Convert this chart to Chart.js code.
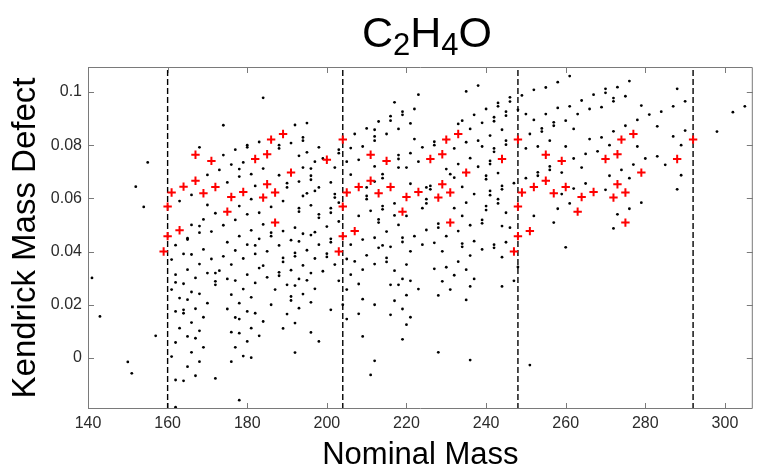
<!DOCTYPE html>
<html>
<head>
<meta charset="utf-8">
<script src="https://cdn.jsdelivr.net/npm/chart.js@4.4.0/dist/chart.umd.min.js"></script>
<style>
  html, body { margin: 0; padding: 0; background: #fff; }
  #wrap { position: relative; width: 759px; height: 471px; overflow: hidden; }
  #title { position: absolute; left: 327px; top: 11px; width: 200px; text-align: center;
           font: 43px/1 "Liberation Sans", Arial, sans-serif; color: #000; }
  #title sub { font-size: 31px; vertical-align: -8px; line-height: 0; }
</style>
</head>
<body>
<div id="wrap">
  <canvas id="chart" width="759" height="471"></canvas>
  <div id="title">C<sub>2</sub>H<sub>4</sub>O</div>
</div>
<script>
// axis ranges and ticks
const xMin = 140, xMax = 307;
const yMin = -0.0192, yMax = 0.1094;
const xTicks = [140, 160, 180, 200, 220, 240, 260, 280, 300];
const yTicks = [0, 0.02, 0.04, 0.06, 0.08, 0.1];
const yTickLabels = ['0', '0.02', '0.04', '0.06', '0.08', '0.1'];

// nominal masses where the dashed guide lines are drawn
const dashMasses = [160, 204, 248, 292];

// highlighted compounds (red crosses)
const redMass = [
  159,160,160,161,163,164,167,167,169,171,172,175,176,179,182,184,185,185,186,187,187,189,191,200,
  203,204,204,204,205,207,208,211,211,213,215,216,219,220,223,226,228,229,229,230,231,231,233,235,244,
  247,248,248,248,249,251,252,255,255,257,259,260,263,264,267,270,272,273,273,274,275,275,277,279,288,292
];
const redKmd = [
  .0400,.0569,.0458,.0622,.0480,.0644,.0764,.0666,.0619,.0741,.0643,.0550,.0605,.0624,.0748,.0603,.0766,.0653,.0821,.0622,.0509,.0842,.0697,.0745,
  .0400,.0821,.0569,.0458,.0622,.0477,.0643,.0764,.0666,.0619,.0741,.0643,.0550,.0605,.0624,.0748,.0603,.0766,.0653,.0821,.0622,.0509,.0842,.0697,.0748,
  .0400,.0821,.0569,.0458,.0622,.0477,.0643,.0764,.0666,.0619,.0741,.0643,.0550,.0605,.0624,.0748,.0603,.0766,.0653,.0821,.0622,.0509,.0842,.0697,.0748,.0821
];

// all other compounds (black dots)
const blackMass = [
  155,152,154,174,168,174,177,180,180,183,179,176,178,173,170,181,178,175,182,163,166,170,181,172,178,169,166,168,177,174,180,165,168,171,178,181,
  184,192,195,188,188,191,194,194,198,193,195,194,196,197,199,202,203,203,
  184,188,190,190,193,196,196,198,197,183,186,189,194,195,193,193,196,198,198,
  201,201,201,202,202,203,184,186,186,189,192,194,196,200,203,
  207,210,212,213,212,212,215,216,216,217,219,219,222,223,218,221,222,224,
  206,209,208,205,212,214,214,218,218,221,223,218,220,206,210,212,217,221,225,
  210,210,214,214,208,211,213,213,215,217,218,220,222,224,
  235,238,240,243,243,246,246,249,252,255,258,261,267,
  234,233,237,239,242,242,245,245,248,250,252,255,254,254,257,257,258,261,264,266,260,262,263,
  236,241,244,238,235,245,245,242,242,239,232,227,227,236,241,241,233,230,231,232,
  238,240,240,243,244,244,226,226,225,225,234,237,241,241,243,243,245,247,
  232,235,240,240,234,239,239,236,228,228,230,225,233,244,246,
  251,253,250,256,260,266,256,256,250,253,253,262,265,264,259,262,259,258,261,252,257,
  270,270,273,276,269,272,272,275,288,290,279,278,281,284,287,275,272,283,269,287,290,
  268,271,278,280,283,285,289,271,274,277,276,265,270,289,288,279,276,273,272,298,302,305,
  141,143,150,151,157,161,161,161,162,162,162,162,162,162,162,163,163,
  164,164,164,164,164,165,165,165,165,165,166,166,166,166,167,167,167,167,
  168,168,168,168,169,169,169,170,170,171,172,172,172,172,173,174,
  175,175,175,176,176,176,176,177,177,177,177,178,178,178,178,
  179,179,179,180,180,180,180,181,181,181,182,182,183,183,
  183,197,182,185,188,189,189,191,192,192,193,195,198,197,200,200,201,201,
  184,185,188,188,191,194,196,199,202,203,187,190,192,193,195,197,191,191,194,
  186,193,196,201,182,190,184,192,189,196,198,192,
  205,207,206,209,210,212,212,213,214,215,215,216,217,218,219,219,219,220,221,221,223,224,
  205,206,208,209,209,212,216,217,219,220,205,208,216,221,220,209,219,212,211,204,
  227,234,234,237,239,242,242,245,229,236,244,233,227,230,235,232,229,237,231,236,244,247,248,228,235,228,236,251,260
];
const blackKmd = [
  .0735,.0644,.0568,.0875,.0792,.0763,.0783,.0800,.0792,.0812,.0735,.0727,.0710,.0707,.0688,.0691,.0682,.0660,.0647,.0590,.0613,.0575,.0597,.0544,.0571,.0521,.0500,.0496,.0519,.0499,.0540,.0450,.0471,.0475,.0458,.0480,
  .0978,.0876,.0883,.0800,.0788,.0808,.0829,.0817,.0792,.0760,.0773,.0716,.0712,.0738,.0750,.0716,.0783,.0770,
  .0712,.0687,.0657,.0641,.0663,.0685,.0670,.0641,.0628,.0546,.0568,.0590,.0609,.0619,.0563,.0550,.0574,.0540,.0527,
  .0660,.0563,.0546,.0616,.0603,.0584,.0502,.0471,.0458,.0477,.0490,.0467,.0462,.0494,.0513,
  .0842,.0863,.0858,.0889,.0833,.0817,.0842,.0909,.0892,.0961,.0926,.0914,.0936,.0990,.0861,.0882,.0823,.0792,
  .0789,.0795,.0745,.0738,.0720,.0691,.0676,.0763,.0748,.0770,.0738,.0716,.0716,.0689,.0641,.0663,.0581,.0655,.0641,
  .0609,.0597,.0571,.0559,.0534,.0553,.0521,.0509,.0475,.0536,.0500,.0534,.0458,.0563,
  .1002,.1024,.0936,.0959,.0946,.0980,.0964,.0987,.1008,.1017,.1037,.1060,.0990,
  .0892,.0880,.0914,.0884,.0905,.0890,.0926,.0911,.0933,.0917,.0895,.0917,.0863,.0851,.0886,.0873,.0940,.0946,.0968,.0936,.0892,.0861,.0917,
  .0861,.0836,.0858,.0817,.0811,.0817,.0802,.0788,.0775,.0795,.0788,.0813,.0800,.0751,.0741,.0729,.0729,.0710,.0691,.0678,
  .0719,.0685,.0672,.0695,.0647,.0634,.0647,.0634,.0597,.0581,.0643,.0616,.0628,.0612,.0597,.0581,.0546,.0657,
  .0563,.0584,.0571,.0556,.0534,.0519,.0506,.0499,.0505,.0490,.0458,.0481,.0477,.0496,.0490,
  .0842,.0795,.0788,.0817,.0795,.0823,.0720,.0707,.0676,.0698,.0685,.0750,.0767,.0716,.0697,.0637,.0616,.0561,.0581,.0534,.0509,
  .1012,.0997,.1018,.1041,.0943,.0977,.0965,.0984,.1012,.0965,.0949,.0895,.0915,.0926,.0946,.0873,.0852,.0871,.0829,.0833,.0855,
  .0777,.0800,.0795,.0750,.0758,.0726,.0800,.0685,.0707,.0727,.0676,.0656,.0632,.0687,.0634,.0584,.0561,.0540,.0487,.0851,.0924,.0946,
  .0301,.0156,-.0015,-.0058,.0083,.0370,.0257,.0005,.0424,.0313,.0284,.0175,.0058,-.0083,-.0185,.0225,.0112,
  .0391,.0279,.0181,.0168,-.0086,.0445,.0332,.0219,.0081,-.0033,.0389,.0248,.0133,.0021,.0301,.0185,.0074,-.0067,
  .0353,.0241,.0102,-.0014,.0408,.0153,.0040,.0319,.0206,.0372,.0319,.0288,.0275,-.0077,.0328,.0382,
  .0435,.0297,.0184,.0351,-.0014,.0238,.0097,.0404,.0291,.0152,.0040,.0206,.0146,.0093,-.0159,
  .0374,.0259,.0007,.0426,.0313,.0175,.0062,.0228,.0112,.0001,.0391,.0282,.0338,.0083,
  .0448,.0473,.0423,.0401,.0423,.0376,.0361,.0443,.0395,.0382,.0438,.0405,.0426,.0374,.0392,.0380,.0448,.0435,
  .0347,.0303,.0322,.0309,.0330,.0348,.0319,.0326,.0351,.0290,.0257,.0275,.0272,.0297,.0292,.0260,.0231,.0216,.0240,
  .0200,.0187,.0209,.0181,.0168,.0165,.0137,.0131,.0111,.0096,.0062,.0020,
  .0372,.0363,.0426,.0445,.0386,.0452,.0353,.0414,.0423,.0376,.0361,.0418,.0328,.0275,.0452,.0436,.0297,.0351,.0401,.0290,.0259,.0426,
  .0257,.0313,.0278,.0332,.0221,.0200,.0275,.0215,.0184,.0236,.0146,.0166,.0162,.0153,.0125,.0081,.0070,-.0011,-.0064,.0200,
  .0433,.0430,.0418,.0439,.0408,.0426,.0414,.0435,.0401,.0385,.0379,.0362,.0335,.0341,.0332,.0311,.0288,.0297,.0257,.0269,.0269,.0290,.0342,.0235,.0218,.0021,-.0008,-.0027,.0416
];

const axisGrey = '#7a7a7a';
const labelColor = '#2b2b2b';
const fontFamily = '"Liberation Sans", Arial, sans-serif';

function pairs(masses, kmds) {
  const n = Math.min(masses.length, kmds.length);
  const out = [];
  for (let i = 0; i < n; i++) out.push({x: masses[i], y: kmds[i]});
  return out;
}

// MATLAB style box with inward tick marks on all four sides
const boxTicks = {
  id: 'boxTicks',
  afterDraw(chart) {
    const {ctx, chartArea: a, scales} = chart;
    const len = 6;
    ctx.save();
    ctx.strokeStyle = axisGrey;
    ctx.lineWidth = 1;
    ctx.beginPath();
    ctx.rect(a.left + 0.5, a.top + 0.5, a.right - a.left - 1, a.bottom - a.top - 1);
    scales.x.ticks.forEach(t => {
      const px = Math.round(scales.x.getPixelForValue(t.value)) + 0.5;
      ctx.moveTo(px, a.bottom); ctx.lineTo(px, a.bottom - len);
      ctx.moveTo(px, a.top); ctx.lineTo(px, a.top + len);
    });
    scales.y.ticks.forEach(t => {
      const py = Math.round(scales.y.getPixelForValue(t.value)) + 0.5;
      ctx.moveTo(a.left, py); ctx.lineTo(a.left + len, py);
      ctx.moveTo(a.right, py); ctx.lineTo(a.right - len, py);
    });
    ctx.stroke();
    ctx.restore();
  }
};

Chart.defaults.font.family = fontFamily;

const datasets = [
  {
    label: 'highlighted',
    data: pairs(redMass, redKmd),
    pointStyle: 'cross',
    pointRadius: 4.2,
    borderColor: '#ff0000',
    borderWidth: 2,
    order: 0
  },
  {
    label: 'compounds',
    data: pairs(blackMass, blackKmd),
    pointRadius: 1.4,
    backgroundColor: '#000',
    borderWidth: 0,
    order: 1
  }
];
dashMasses.forEach(m => {
  datasets.push({
    label: 'n' + m,
    data: [{x: m, y: yMin}, {x: m, y: yMax}],
    showLine: true,
    pointRadius: 0,
    borderColor: '#000',
    borderWidth: 1.4,
    borderDash: [6, 3],
    order: 2
  });
});

new Chart(document.getElementById('chart'), {
  type: 'scatter',
  data: {datasets: datasets},
  options: {
    responsive: false,
    animation: false,
    devicePixelRatio: 1,
    layout: {padding: {top: 67, right: 2, left: 0, bottom: 0}},
    plugins: {legend: {display: false}, tooltip: {enabled: false}},
    scales: {
      x: {
        type: 'linear',
        min: xMin,
        max: xMax,
        grid: {display: false, drawTicks: false},
        border: {display: false},
        afterBuildTicks: s => { s.ticks = xTicks.map(v => ({value: v})); },
        afterFit: s => { s.height = 62; },
        ticks: {color: labelColor, font: {size: 16}, padding: 5, maxRotation: 0},
        title: {
          display: true,
          text: 'Nominal Mass',
          color: '#000',
          font: {size: 31, lineHeight: 1},
          padding: {top: 0, bottom: 0}
        }
      },
      y: {
        type: 'linear',
        min: yMin,
        max: yMax,
        grid: {display: false, drawTicks: false},
        border: {display: false},
        afterBuildTicks: s => { s.ticks = yTicks.map(v => ({value: v})); },
        afterFit: s => { s.width = 88; },
        ticks: {
          color: labelColor,
          font: {size: 16},
          padding: 6,
          callback: v => {
            const i = yTicks.findIndex(t => Math.abs(t - v) < 1e-9);
            return i >= 0 ? yTickLabels[i] : '';
          }
        },
        title: {
          display: true,
          text: 'Kendrick Mass Defect',
          color: '#000',
          font: {size: 33, lineHeight: 1},
          padding: {top: 9, bottom: 0}
        }
      }
    }
  },
  plugins: [boxTicks]
});
</script>
</body>
</html>
